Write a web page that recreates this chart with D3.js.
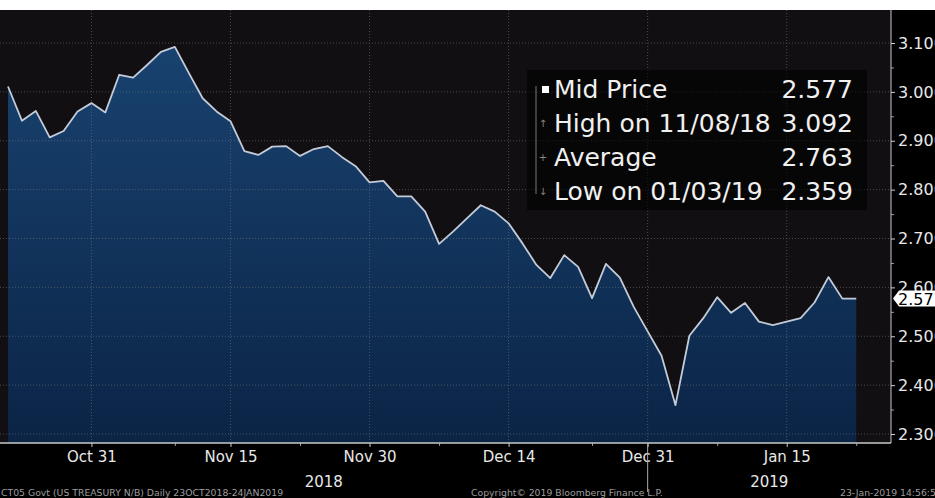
<!DOCTYPE html>
<html>
<head>
<meta charset="utf-8">
<script src="https://cdn.jsdelivr.net/npm/d3@7"></script>
<style>
  html, body { margin: 0; padding: 0; background: #000; }
  svg { display: block; }
</style>
</head>
<body>
<div id="chart"></div>
<script>
// trading days shown on the chart (one point per day)
var dates = [
    "2018-10-23", "2018-10-24", "2018-10-25", "2018-10-26", "2018-10-29", "2018-10-30",
    "2018-10-31", "2018-11-01", "2018-11-02", "2018-11-05", "2018-11-06", "2018-11-07",
    "2018-11-08", "2018-11-09", "2018-11-13", "2018-11-14", "2018-11-15", "2018-11-16",
    "2018-11-19", "2018-11-20", "2018-11-21", "2018-11-23", "2018-11-26", "2018-11-27",
    "2018-11-28", "2018-11-29", "2018-11-30", "2018-12-03", "2018-12-04", "2018-12-05",
    "2018-12-06", "2018-12-07", "2018-12-10", "2018-12-11", "2018-12-12", "2018-12-13",
    "2018-12-14", "2018-12-17", "2018-12-18", "2018-12-19", "2018-12-20", "2018-12-21",
    "2018-12-24", "2018-12-26", "2018-12-27", "2018-12-28", "2018-12-31", "2019-01-02",
    "2019-01-03", "2019-01-04", "2019-01-07", "2019-01-08", "2019-01-09", "2019-01-10",
    "2019-01-11", "2019-01-14", "2019-01-15", "2019-01-16", "2019-01-17", "2019-01-18",
    "2019-01-22", "2019-01-23"
];

var midPrices = [
    3.011, 2.941, 2.961, 2.907, 2.920, 2.960, 2.977, 2.958, 3.035, 3.029,
    3.055, 3.082, 3.092, 3.039, 2.987, 2.960, 2.940, 2.879, 2.871, 2.888,
    2.889, 2.869, 2.883, 2.889, 2.867, 2.848, 2.815, 2.818, 2.786, 2.786,
    2.755, 2.689, 2.714, 2.741, 2.768, 2.755, 2.731, 2.690, 2.646, 2.619,
    2.666, 2.642, 2.578, 2.648, 2.620, 2.560, 2.510, 2.460, 2.359, 2.501,
    2.537, 2.580, 2.548, 2.568, 2.530, 2.523, 2.530, 2.537, 2.569, 2.621,
    2.577, 2.577
];

var tickDates = ["2018-10-31", "2018-11-15", "2018-11-30", "2018-12-14", "2018-12-31", "2019-01-15"];
var tickLabels = ["Oct 31", "Nov 15", "Nov 30", "Dec 14", "Dec 31", "Jan 15"];
var minorTickDates = ["2018-11-08", "2018-11-23", "2018-12-07", "2018-12-24", "2019-01-08", "2019-01-23"];
var yearLabels = ["2018", "2019"];
var yearStart = "2018-12-31";

var yTicks = [2.3, 2.4, 2.5, 2.6, 2.7, 2.8, 2.9, 3.0, 3.1];
var yMinorTicks = [2.35, 2.45, 2.55, 2.65, 2.75, 2.85, 2.95, 3.05];

var legendLabels = ["Mid Price", "High on 11/08/18", "Average", "Low on 01/03/19"];
var legendValues = ["2.577", "3.092", "2.763", "2.359"];
var lastPrice = "2.577";

var footerLeft = "CT05 Govt (US TREASURY N/B)  Daily 23OCT2018-24JAN2019";
var footerMid = "Copyright\u00a9 2019 Bloomberg Finance L.P.";
var footerRight = "23-Jan-2019 14:56:5";

(function () {
    "use strict";

    var vWidth = 935, vHeight = 498;
    var vPlot = { left: 0, top: 10, right: 891, bottom: 443 };
    var vFont = "'DejaVu Sans', sans-serif";

    var svg = d3.select("#chart")
        .append("svg")
        .attr("width", vWidth)
        .attr("height", vHeight)
        .style("font-family", vFont);

    // white strip at the very top, black page below
    svg.append("rect").attr("width", vWidth).attr("height", vHeight).attr("fill", "#000");
    svg.append("rect").attr("width", vWidth).attr("height", vPlot.top).attr("fill", "#fff");

    svg.append("rect")
        .attr("x", vPlot.left)
        .attr("y", vPlot.top)
        .attr("width", vPlot.right - vPlot.left)
        .attr("height", vPlot.bottom - vPlot.top)
        .attr("fill", "#120f12");

    var x = d3.scaleLinear().domain([0, 63.5]).range([8, vPlot.right]);
    var y = d3.scaleLinear().domain([2.3, 3.1]).range([434, 43]);

    var xOf = function (aDate) { return x(dates.indexOf(aDate)); };

    // area gradient
    var defs = svg.append("defs");
    var grad = defs.append("linearGradient")
        .attr("id", "fillGrad")
        .attr("x1", 0).attr("y1", 0).attr("x2", 0).attr("y2", 1);
    grad.append("stop").attr("offset", "0%").attr("stop-color", "#18426f");
    grad.append("stop").attr("offset", "100%").attr("stop-color", "#0b2446");

    var area = d3.area()
        .x(function (d, i) { return x(i); })
        .y0(vPlot.bottom)
        .y1(function (d) { return y(d); });

    svg.append("path")
        .datum(midPrices)
        .attr("d", area)
        .attr("fill", "url(#fillGrad)");

    // dotted grid
    svg.append("g")
        .selectAll("line")
        .data(yTicks)
        .enter()
        .append("line")
            .attr("x1", vPlot.left)
            .attr("x2", vPlot.right)
            .attr("y1", function (d) { return y(d); })
            .attr("y2", function (d) { return y(d); })
            .attr("stroke", "#7a7a7a")
            .attr("stroke-opacity", 0.55)
            .attr("stroke-dasharray", "1,2");

    svg.append("g")
        .selectAll("line")
        .data(tickDates)
        .enter()
        .append("line")
            .attr("x1", xOf)
            .attr("x2", xOf)
            .attr("y1", vPlot.top)
            .attr("y2", vPlot.bottom)
            .attr("stroke", "#7a7a7a")
            .attr("stroke-opacity", 0.55)
            .attr("stroke-dasharray", "1,2");

    var line = d3.line()
        .x(function (d, i) { return x(i); })
        .y(function (d) { return y(d); });

    svg.append("path")
        .datum(midPrices)
        .attr("d", line)
        .attr("fill", "none")
        .attr("stroke", "#c3cbd8")
        .attr("stroke-width", 1.8)
        .attr("stroke-linejoin", "round");

    // right axis (labels run off the edge, as on the terminal screen)
    var yAxis = svg.append("g")
        .attr("transform", "translate(" + vPlot.right + ",0)")
        .call(d3.axisRight(y).tickValues(yTicks).tickFormat(d3.format(".3f")).tickSize(4).tickPadding(3));
    yAxis.select(".domain").remove();
    yAxis.selectAll("line").attr("stroke", "#d0d0d0");
    yAxis.selectAll("text")
        .attr("fill", "#e8e8e8")
        .style("font-size", "16px")
        .style("font-family", vFont);

    var yMinor = svg.append("g")
        .attr("transform", "translate(" + vPlot.right + ",0)")
        .call(d3.axisRight(y).tickValues(yMinorTicks).tickFormat("").tickSize(3));
    yMinor.select(".domain").remove();
    yMinor.selectAll("line").attr("stroke", "#9a9a9a");

    svg.append("line")
        .attr("x1", vPlot.right).attr("x2", vPlot.right)
        .attr("y1", vPlot.top).attr("y2", vPlot.bottom)
        .attr("stroke", "#c8c8c8");

    // bottom axis
    var xAxis = svg.append("g")
        .attr("transform", "translate(0," + vPlot.bottom + ")")
        .call(d3.axisBottom(x)
            .tickValues(tickDates.map(function (d) { return dates.indexOf(d); }))
            .tickFormat(function (d, i) { return tickLabels[i]; })
            .tickSize(4)
            .tickPadding(4));
    xAxis.select(".domain").remove();
    xAxis.selectAll("line").attr("stroke", "#c8c8c8");
    xAxis.selectAll("text")
        .attr("fill", "#e8e8e8")
        .style("font-size", "15px")
        .style("font-family", vFont);

    var xMinor = svg.append("g")
        .attr("transform", "translate(0," + vPlot.bottom + ")")
        .call(d3.axisBottom(x)
            .tickValues(minorTickDates.map(function (d) { return dates.indexOf(d); }))
            .tickFormat("")
            .tickSize(3));
    xMinor.select(".domain").remove();
    xMinor.selectAll("line").attr("stroke", "#9a9a9a");

    svg.append("line")
        .attr("x1", vPlot.left).attr("x2", vPlot.right)
        .attr("y1", vPlot.bottom).attr("y2", vPlot.bottom)
        .attr("stroke", "#c8c8c8")
        .attr("stroke-width", 1.5);

    // year labels centred on each year's span
    var vSplit = xOf(yearStart);
    svg.append("line")
        .attr("x1", vSplit).attr("x2", vSplit)
        .attr("y1", vPlot.bottom).attr("y2", 492)
        .attr("stroke", "#aaa");
    var vYearCentres = [(vPlot.left + vSplit) / 2, (vSplit + vPlot.right) / 2];
    svg.selectAll(".year")
        .data(yearLabels)
        .enter()
        .append("text")
            .attr("class", "year")
            .attr("x", function (d, i) { return vYearCentres[i]; })
            .attr("y", 487)
            .attr("text-anchor", "middle")
            .attr("fill", "#e8e8e8")
            .style("font-size", "15px")
            .text(function (d) { return d; });

    // last price tag
    var vPy = y(+lastPrice);
    svg.append("path")
        .attr("d", "M" + (vPlot.right + 2) + "," + vPy +
            " L" + (vPlot.right + 8) + "," + (vPy - 8) +
            " L" + (vWidth + 2) + "," + (vPy - 8) +
            " L" + (vWidth + 2) + "," + (vPy + 8) +
            " L" + (vPlot.right + 8) + "," + (vPy + 8) + " Z")
        .attr("fill", "#fff");
    svg.append("text")
        .attr("x", vPlot.right + 7)
        .attr("y", vPy + 6)
        .attr("fill", "#000")
        .style("font-size", "16px")
        .text(lastPrice);

    // legend
    var legend = svg.append("g");
    legend.append("rect")
        .attr("x", 527).attr("y", 70)
        .attr("width", 340).attr("height", 140)
        .attr("fill", "#000")
        .attr("fill-opacity", 0.6);
    legend.append("line")
        .attr("x1", 536).attr("x2", 536)
        .attr("y1", 86).attr("y2", 194)
        .attr("stroke", "#777");
    var vRowY = function (i) { return 98 + i * 34; };
    legend.append("rect")
        .attr("x", 542).attr("y", vRowY(0) - 12)
        .attr("width", 7).attr("height", 7)
        .attr("fill", "#fff");
    var vMarks = ["", "\u2191", "+", "\u2193"];
    legend.selectAll(".mark")
        .data(vMarks)
        .enter()
        .append("text")
            .attr("class", "mark")
            .attr("x", 543)
            .attr("y", function (d, i) { return vRowY(i) - 5; })
            .attr("text-anchor", "middle")
            .attr("fill", "#888")
            .style("font-size", "10px")
            .text(function (d) { return d; });
    legend.selectAll(".lab")
        .data(legendLabels)
        .enter()
        .append("text")
            .attr("class", "lab")
            .attr("x", 554)
            .attr("y", function (d, i) { return vRowY(i); })
            .attr("fill", "#f0f0f0")
            .style("font-size", "25px")
            .text(function (d) { return d; });
    legend.selectAll(".val")
        .data(legendValues)
        .enter()
        .append("text")
            .attr("class", "val")
            .attr("x", 853)
            .attr("y", function (d, i) { return vRowY(i); })
            .attr("text-anchor", "end")
            .attr("fill", "#f0f0f0")
            .style("font-size", "25px")
            .text(function (d) { return d; });

    // footer
    var footer = svg.append("g")
        .attr("fill", "#9c9c9c")
        .style("font-size", "9.3px");
    footer.append("text").attr("x", 1).attr("y", 496).text(footerLeft);
    footer.append("text").attr("x", 471).attr("y", 496).text(footerMid);
    footer.append("text").attr("x", 840).attr("y", 496).text(footerRight);
})();
</script>
</body>
</html>
